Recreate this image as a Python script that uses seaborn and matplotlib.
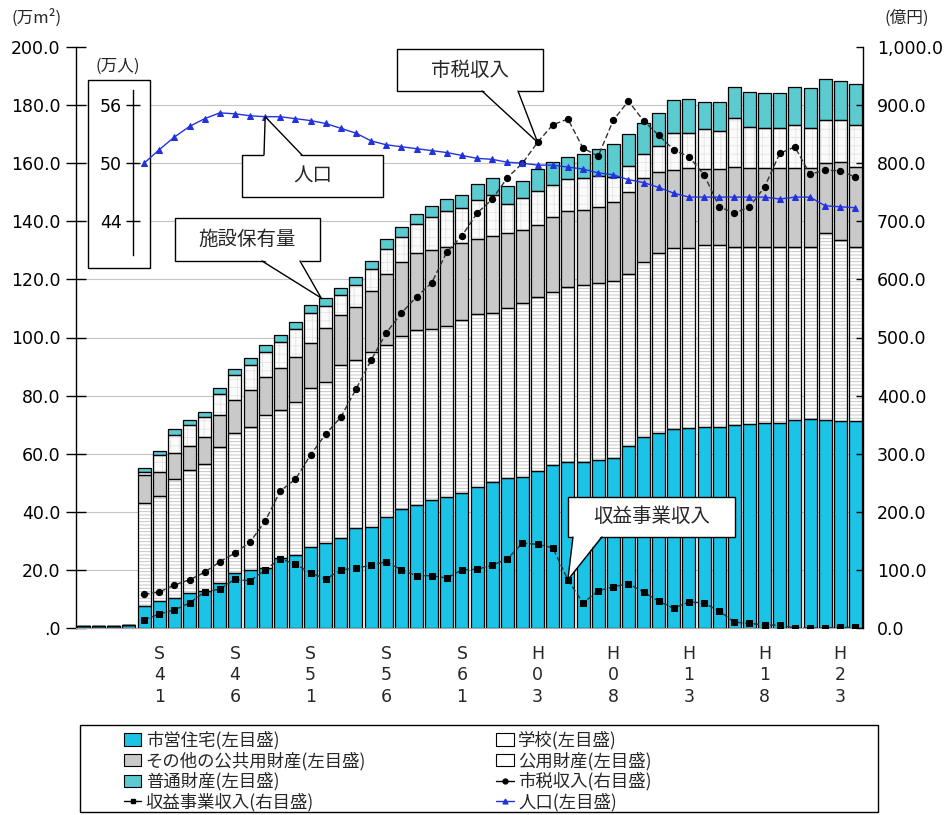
import numpy as np
import matplotlib
matplotlib.use("Agg")
import matplotlib.pyplot as plt
from matplotlib.patches import Patch, Rectangle, Polygon
from matplotlib.lines import Line2D
from matplotlib.ticker import FuncFormatter
import seaborn as sns

# ---------------------------------------------------------------- data
years = [f"S{n}" for n in range(36, 64)] + [f"H{n:02d}" for n in range(1, 25)]

NA = np.nan
# floor area by category (万m²)
shiei = [0.6, 0.7, 0.8, 1.0,
         7.6, 9.3, 10.3, 12.0, 12.7, 15.5, 18.9, 20.0, 20.7, 24.1,
         25.1, 27.9, 29.2, 31.0, 34.4,
         34.8, 38.2, 41.0, 42.3, 44.1, 45.1, 46.5, 48.5, 50.3, 51.6, 52.0, 54.0, 56.0, 57.1, 57.1, 57.8, 58.4,
         62.7, 65.7, 67.1, 68.5, 68.8, 69.2, 69.2, 69.9, 70.2, 70.6, 70.7, 71.6, 71.9, 71.6, 71.3, 71.3]
gakko = [0, 0, 0, 0,
         35.4, 36.1, 41.0, 42.4, 43.8, 46.8, 48.2, 49.2, 52.6, 50.9,
         52.7, 54.7, 55.5, 59.5, 57.9,
         60.2, 59.2, 59.5, 60.3, 58.9, 58.9, 59.5, 59.5, 58.2, 58.4, 60.0, 60.0, 59.7, 60.3, 60.9, 60.9, 60.9,
         59.3, 60.3, 61.9, 62.3, 62.0, 62.6, 62.6, 61.1, 60.8, 60.4, 60.3, 59.4, 59.1, 64.4, 62.3, 59.7]
sonota = [0, 0, 0, 0,
          9.7, 8.3, 8.9, 8.3, 9.2, 11.0, 11.4, 12.7, 13.1, 14.5,
          15.5, 15.5, 18.6, 17.2, 18.2,
          21.0, 24.6, 25.5, 26.4, 27.0, 27.0, 26.5, 26.0, 26.5, 26.0, 25.0, 24.7, 25.8, 26.1, 26.0, 26.3, 27.3,
          28.0, 29.0, 28.0, 26.9, 27.5, 26.2, 26.2, 27.7, 27.5, 27.5, 27.5, 27.5, 27.5, 24.0, 26.8, 27.7]
koyo = [0, 0, 0, 0,
        1.1, 5.8, 6.3, 7.3, 6.8, 7.2, 8.5, 8.6, 8.6, 9.0,
        9.7, 10.4, 7.7, 6.8, 7.5,
        7.5, 8.5, 8.5, 10.0, 11.5, 12.5, 12.0, 13.5, 14.0, 10.0, 11.0, 11.6, 11.1, 11.0, 11.0, 10.5, 8.8,
        9.0, 8.0, 9.0, 12.7, 12.1, 13.8, 13.2, 16.8, 14.0, 13.5, 13.5, 14.5, 13.5, 14.8, 14.4, 14.5]
futsu = [0, 0, 0, 0,
         1.2, 1.5, 2.0, 1.6, 1.9, 2.1, 2.2, 2.4, 2.4, 2.4,
         2.3, 2.7, 2.6, 2.5, 2.8,
         2.9, 3.4, 3.5, 3.5, 3.8, 4.2, 4.5, 5.3, 5.9, 6.2, 5.9, 7.7, 7.8, 7.5, 8.0, 9.4, 11.2,
         11.0, 10.8, 11.3, 11.4, 11.8, 9.2, 9.8, 10.7, 12.0, 12.2, 12.2, 13.2, 14.0, 14.2, 13.5, 14.1]

# revenue (億円)
shizei = [NA, NA, NA, NA,
          58, 62, 74, 83, 96, 114, 129, 148, 184, 236,
          256, 298, 334, 363, 411,
          461, 508, 542, 570, 594, 647, 675, 714, 738, 775, 800, 836, 866, 876, 826, 812, 874,
          907, 873, 848, 823, 811, 780, 725, 714, 725, 759, 817, 828, 781, 788, 787, 776]
shueki = [NA, NA, NA, NA,
          14, 24, 31, 43, 62, 67, 84, 81, 100, 119,
          110, 95, 84, 100, 103,
          108, 114, 100, 90, 90, 86, 100, 101, 108, 119, 146, 144, 138, 83, 43, 64, 71,
          76, 62, 46, 34, 45, 43, 29, 10, 8, 5, 5, 0, 0, 0, 1, 1]
# population (万人)
jinko = [NA, NA, NA, NA,
         50.0, 51.4, 52.7, 53.8, 54.6, 55.2, 55.1, 54.9, 54.8, 54.8,
         54.6, 54.4, 54.1, 53.6, 53.1,
         52.3, 51.9, 51.7, 51.5, 51.3, 51.1, 50.8, 50.5, 50.4, 50.1, 50.0, 49.8, 49.8, 49.6, 49.4, 49.0, 48.8,
         48.3, 48.0, 47.5, 46.9, 46.5, 46.5, 46.5, 46.5, 46.5, 46.5, 46.3, 46.5, 46.5, 45.6, 45.5, 45.4]

area_ticks = list(range(0, 201, 20))
yen_ticks = list(range(0, 1001, 100))
pop_ticks = [44, 50, 56]

# ---------------------------------------------------------------- style
sns.set_theme(style="white")
plt.rcParams["font.family"] = ["DejaVu Sans", "Noto Sans CJK JP"]
plt.rcParams["hatch.linewidth"] = 0.6
JP = ["Noto Sans CJK JP", "DejaVu Sans"]

C_SHIEI = "#1BC4E6"
C_SONOTA = "#c9c9c9"
C_FUTSU = "#5BCBD0"
C_POP = "#2233dd"

W, H = 945, 815
def fx(px):
    return px / W
def fy(py):
    return 1 - py / H

fig = plt.figure(figsize=(W / 100, H / 100), dpi=100)
ax = fig.add_axes([fx(76), fy(628), (863 - 76) / W, (628 - 47) / H])
x = np.arange(len(years))

# grid
for v in area_ticks[1:-1]:
    ax.axhline(v, color="#c4c4c4", lw=0.8, zorder=0)

# stacked floor-area bars
layers = [
    (shiei, dict(color=C_SHIEI)),
    (gakko, dict(color="white", hatch="-----", edgecolor="#bdbdbd")),
    (sonota, dict(color=C_SONOTA)),
    (koyo, dict(color="#fbfbfb", hatch="++", edgecolor="#e4e4e4")),
    (futsu, dict(color=C_FUTSU)),
]
bottom = np.zeros(len(years))
for vals, style in layers:
    vals = np.asarray(vals, dtype=float)
    ax.bar(x, vals, bottom=bottom, width=0.86, linewidth=0, zorder=2, **style)
    ax.bar(x, vals, bottom=bottom, width=0.86, fill=False, edgecolor="black",
           linewidth=0.9, zorder=3)
    bottom = bottom + vals
total = bottom

# revenue lines on the right scale
ax2 = ax.twinx()
sns.lineplot(x=x, y=np.asarray(shizei, float), ax=ax2, color="#333333", marker="o",
             markersize=4.5, markeredgecolor="black", markerfacecolor="black",
             linewidth=1.0, linestyle=(0, (4, 2)))
sns.lineplot(x=x, y=np.asarray(shueki, float), ax=ax2, color="#333333", marker="s",
             markersize=4.5, markeredgecolor="black", markerfacecolor="black",
             linewidth=1.0, linestyle=(0, (4, 2)))
ax2.set_ylim(0, 1000)

# population on its own scale (44-56 万人 aligned with 140-180 万m²)
ax3 = ax.twinx()
sns.lineplot(x=x, y=np.asarray(jinko, float), ax=ax3, color=C_POP, marker="^",
             markersize=4, markeredgecolor=C_POP, markerfacecolor=C_POP, linewidth=1.0)
ax3.set_ylim(2, 62)

for a in (ax, ax2, ax3):
    a.set_xlim(-0.5, len(years) - 0.5)
    a.set_xlabel("")
    a.set_ylabel("")
ax.set_ylim(0, 200)

# left axis
ax.set_yticks(area_ticks)
ax.yaxis.set_major_formatter(FuncFormatter(lambda v, _: ".0" if v == 0 else f"{v:.1f}"))
ax.tick_params(axis="y", direction="inout", length=14, width=1, labelsize=12.5, pad=4,
               colors="black", left=True)
ax.set_xticks(x[5::5])
ax.set_xticklabels(["\n".join(years[i]) for i in x[5::5]], linespacing=1.25)
ax.tick_params(axis="x", length=0, pad=12, labelsize=12.5)
for s in ("top", "right"):
    ax.spines[s].set_visible(False)
ax.spines["left"].set_color("black")
ax.spines["left"].set_linewidth(1)
ax.spines["bottom"].set_color("#aaaaaa")
ax.spines["bottom"].set_linewidth(0.8)

# right axis
ax2.set_yticks(yen_ticks)
ax2.yaxis.set_major_formatter(FuncFormatter(lambda v, _: f"{v:,.1f}"))
ax2.tick_params(axis="y", direction="in", length=5, width=1, labelsize=12.5, pad=10,
                right=True, colors="black")
for s in ("top", "left", "bottom"):
    ax2.spines[s].set_visible(False)
ax2.spines["right"].set_color("black")
ax2.spines["right"].set_linewidth(1)

# population scale inside a small box
for s in ("top", "right", "bottom"):
    ax3.spines[s].set_visible(False)
ax3.yaxis.tick_left()
ax3.spines["left"].set_visible(True)
ax3.spines["left"].set_position(("axes", (133 - 76) / 787))
ax3.spines["left"].set_bounds(40.5, 57.6)
ax3.spines["left"].set_color("black")
ax3.spines["left"].set_linewidth(1)
ax3.set_yticks(pop_ticks)
ax3.tick_params(axis="y", direction="inout", length=10, width=1, labelsize=12.5, pad=3,
                left=True, right=False, labelleft=True, labelright=False, colors="black")
ax.add_patch(Rectangle(((88 - 76) / 787, (628 - 268) / 581), (150 - 88) / 787, (268 - 80) / 581,
                       transform=ax.transAxes, facecolor="white", edgecolor="black",
                       lw=1, zorder=5))
ax.text((118 - 76) / 787, (628 - 66) / 581, "(万人)", transform=ax.transAxes,
        ha="center", va="center", fontsize=12, family=JP)

# unit labels
fig.text(fx(37), fy(18), "(万m²)", ha="center", va="center", fontsize=12, family=JP)
fig.text(fx(907), fy(18), "(億円)", ha="center", va="center", fontsize=12, family=JP)

# callouts
inv = fig.transFigure.inverted()
def callout(label, box, base, target, trans, size=14):
    x0, y0, x1, y1 = box
    tx, ty = inv.transform(trans.transform(target))
    (bx0, by0), (bx1, by1) = base
    fig.add_artist(Rectangle((fx(x0), fy(y1)), fx(x1) - fx(x0), fy(y0) - fy(y1),
                             transform=fig.transFigure, facecolor="white",
                             edgecolor="black", lw=1, zorder=9))
    inward = 2 if by0 <= y0 + 1 else -2
    fig.add_artist(Polygon([(fx(bx0), fy(by0 + inward)), (tx, ty), (fx(bx1), fy(by1 + inward))],
                           closed=True, transform=fig.transFigure, facecolor="white",
                           edgecolor="none", zorder=10))
    fig.add_artist(Line2D([fx(bx0), tx, fx(bx1)], [fy(by0), ty, fy(by1)],
                          transform=fig.transFigure, color="black", lw=1, zorder=11))
    fig.text(fx((x0 + x1) / 2), fy((y0 + y1) / 2), label, ha="center", va="center",
             fontsize=size, family=JP, zorder=12)

callout("市税収入", (397, 49, 543, 91), ((482, 91), (518, 91)), (30, shizei[30]), ax2.transData)
callout("人口", (242, 155, 383, 197), ((264, 155), (302, 155)), (12, jinko[12]), ax3.transData)
callout("施設保有量", (175, 218, 320, 261), ((262, 261), (300, 261)), (15.7, total[16]), ax.transData)
callout("収益事業収入", (568, 497, 735, 537), ((573, 537), (602, 537)), (32, shueki[32]), ax2.transData)

# legend
fig.add_artist(Rectangle((fx(80), fy(812)), fx(878) - fx(80), fy(725) - fy(812),
                         transform=fig.transFigure, facecolor="white", edgecolor="black",
                         lw=1, zorder=1))
handles = [
    Patch(facecolor=C_SHIEI, edgecolor="black", lw=0.8, label="市営住宅(左目盛)"),
    Patch(facecolor=C_SONOTA, edgecolor="black", lw=0.8, label="その他の公共用財産(左目盛)"),
    Patch(facecolor=C_FUTSU, edgecolor="black", lw=0.8, label="普通財産(左目盛)"),
    Line2D([], [], color="black", marker="s", markersize=3.5, lw=1, label="収益事業収入(右目盛)"),
    Patch(facecolor="white", edgecolor="black", lw=0.8, label="学校(左目盛)"),
    Patch(facecolor="white", edgecolor="black", lw=0.8, label="公用財産(左目盛)"),
    Line2D([], [], color="black", marker="o", markersize=3.5, lw=1, label="市税収入(右目盛)"),
    Line2D([], [], color=C_POP, marker="^", markersize=3.5, lw=1, label="人口(左目盛)"),
]
leg = fig.legend(handles=handles, ncol=2, loc="upper left",
                 bbox_to_anchor=(fx(124), fy(731)), frameon=False,
                 prop={"family": JP, "size": 12.5}, handlelength=1.0, handleheight=0.7,
                 handletextpad=0.25, labelspacing=0.12, borderpad=0, borderaxespad=0,
                 columnspacing=7.5)
leg.set_zorder(2)

fig.savefig("out.png", dpi=100)
